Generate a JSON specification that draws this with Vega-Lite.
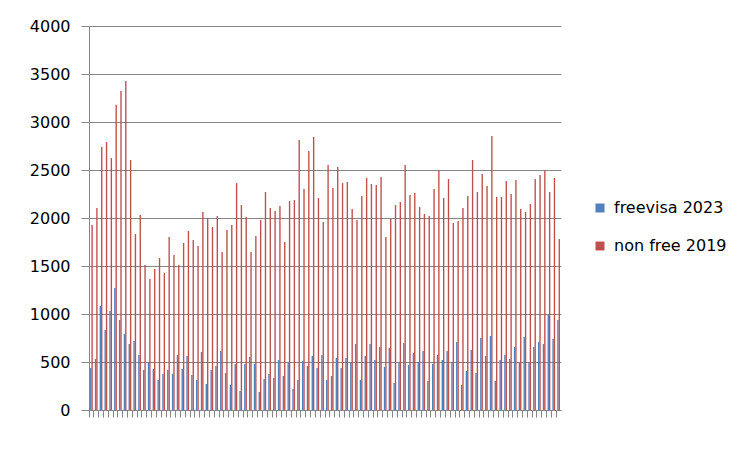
{
  "$schema": "https://vega.github.io/schema/vega-lite/v6.json",
  "width": 472,
  "height": 384,
  "autosize": "none",
  "padding": {"left": 89, "top": 26, "right": 193, "bottom": 44},
  "background": "white",
  "data": {"values": [
    {"c":1,"freevisa 2023":437,"non free 2019":1927},
    {"c":2,"freevisa 2023":531,"non free 2019":2104},
    {"c":3,"freevisa 2023":1083,"non free 2019":2740},
    {"c":4,"freevisa 2023":833,"non free 2019":2792},
    {"c":5,"freevisa 2023":1031,"non free 2019":2625},
    {"c":6,"freevisa 2023":1271,"non free 2019":3177},
    {"c":7,"freevisa 2023":937,"non free 2019":3323},
    {"c":8,"freevisa 2023":792,"non free 2019":3427},
    {"c":9,"freevisa 2023":687,"non free 2019":2604},
    {"c":10,"freevisa 2023":719,"non free 2019":1833},
    {"c":11,"freevisa 2023":573,"non free 2019":2031},
    {"c":12,"freevisa 2023":417,"non free 2019":1510},
    {"c":13,"freevisa 2023":500,"non free 2019":1365},
    {"c":14,"freevisa 2023":427,"non free 2019":1469},
    {"c":15,"freevisa 2023":312,"non free 2019":1583},
    {"c":16,"freevisa 2023":375,"non free 2019":1427},
    {"c":17,"freevisa 2023":417,"non free 2019":1802},
    {"c":18,"freevisa 2023":375,"non free 2019":1615},
    {"c":19,"freevisa 2023":573,"non free 2019":1510},
    {"c":20,"freevisa 2023":427,"non free 2019":1740},
    {"c":21,"freevisa 2023":562,"non free 2019":1865},
    {"c":22,"freevisa 2023":365,"non free 2019":1771},
    {"c":23,"freevisa 2023":312,"non free 2019":1708},
    {"c":24,"freevisa 2023":604,"non free 2019":2062},
    {"c":25,"freevisa 2023":271,"non free 2019":2000},
    {"c":26,"freevisa 2023":417,"non free 2019":1906},
    {"c":27,"freevisa 2023":458,"non free 2019":2021},
    {"c":28,"freevisa 2023":615,"non free 2019":1646},
    {"c":29,"freevisa 2023":385,"non free 2019":1875},
    {"c":30,"freevisa 2023":260,"non free 2019":1927},
    {"c":31,"freevisa 2023":479,"non free 2019":2364},
    {"c":32,"freevisa 2023":198,"non free 2019":2135},
    {"c":33,"freevisa 2023":479,"non free 2019":2010},
    {"c":34,"freevisa 2023":552,"non free 2019":1646},
    {"c":35,"freevisa 2023":479,"non free 2019":1812},
    {"c":36,"freevisa 2023":187,"non free 2019":1979},
    {"c":37,"freevisa 2023":323,"non free 2019":2271},
    {"c":38,"freevisa 2023":375,"non free 2019":2104},
    {"c":39,"freevisa 2023":333,"non free 2019":2073},
    {"c":40,"freevisa 2023":521,"non free 2019":2125},
    {"c":41,"freevisa 2023":354,"non free 2019":1750},
    {"c":42,"freevisa 2023":500,"non free 2019":2177},
    {"c":43,"freevisa 2023":219,"non free 2019":2187},
    {"c":44,"freevisa 2023":312,"non free 2019":2812},
    {"c":45,"freevisa 2023":510,"non free 2019":2302},
    {"c":46,"freevisa 2023":458,"non free 2019":2698},
    {"c":47,"freevisa 2023":562,"non free 2019":2844},
    {"c":48,"freevisa 2023":437,"non free 2019":2208},
    {"c":49,"freevisa 2023":573,"non free 2019":1958},
    {"c":50,"freevisa 2023":312,"non free 2019":2552},
    {"c":51,"freevisa 2023":354,"non free 2019":2312},
    {"c":52,"freevisa 2023":542,"non free 2019":2531},
    {"c":53,"freevisa 2023":437,"non free 2019":2364},
    {"c":54,"freevisa 2023":542,"non free 2019":2375},
    {"c":55,"freevisa 2023":497,"non free 2019":2094},
    {"c":56,"freevisa 2023":687,"non free 2019":1979},
    {"c":57,"freevisa 2023":312,"non free 2019":2229},
    {"c":58,"freevisa 2023":562,"non free 2019":2417},
    {"c":59,"freevisa 2023":687,"non free 2019":2354},
    {"c":60,"freevisa 2023":521,"non free 2019":2344},
    {"c":61,"freevisa 2023":656,"non free 2019":2427},
    {"c":62,"freevisa 2023":448,"non free 2019":1802},
    {"c":63,"freevisa 2023":646,"non free 2019":1990},
    {"c":64,"freevisa 2023":281,"non free 2019":2135},
    {"c":65,"freevisa 2023":500,"non free 2019":2167},
    {"c":66,"freevisa 2023":698,"non free 2019":2552},
    {"c":67,"freevisa 2023":469,"non free 2019":2239},
    {"c":68,"freevisa 2023":594,"non free 2019":2260},
    {"c":69,"freevisa 2023":500,"non free 2019":2114},
    {"c":70,"freevisa 2023":615,"non free 2019":2042},
    {"c":71,"freevisa 2023":302,"non free 2019":2021},
    {"c":72,"freevisa 2023":479,"non free 2019":2302},
    {"c":73,"freevisa 2023":573,"non free 2019":2496},
    {"c":74,"freevisa 2023":521,"non free 2019":2208},
    {"c":75,"freevisa 2023":615,"non free 2019":2406},
    {"c":76,"freevisa 2023":497,"non free 2019":1948},
    {"c":77,"freevisa 2023":708,"non free 2019":1969},
    {"c":78,"freevisa 2023":260,"non free 2019":2104},
    {"c":79,"freevisa 2023":406,"non free 2019":2229},
    {"c":80,"freevisa 2023":625,"non free 2019":2604},
    {"c":81,"freevisa 2023":385,"non free 2019":2271},
    {"c":82,"freevisa 2023":750,"non free 2019":2458},
    {"c":83,"freevisa 2023":562,"non free 2019":2333},
    {"c":84,"freevisa 2023":771,"non free 2019":2854},
    {"c":85,"freevisa 2023":302,"non free 2019":2219},
    {"c":86,"freevisa 2023":521,"non free 2019":2219},
    {"c":87,"freevisa 2023":573,"non free 2019":2385},
    {"c":88,"freevisa 2023":531,"non free 2019":2250},
    {"c":89,"freevisa 2023":656,"non free 2019":2396},
    {"c":90,"freevisa 2023":497,"non free 2019":2094},
    {"c":91,"freevisa 2023":760,"non free 2019":2062},
    {"c":92,"freevisa 2023":497,"non free 2019":2146},
    {"c":93,"freevisa 2023":656,"non free 2019":2406},
    {"c":94,"freevisa 2023":708,"non free 2019":2448},
    {"c":95,"freevisa 2023":687,"non free 2019":2496},
    {"c":96,"freevisa 2023":996,"non free 2019":2271},
    {"c":97,"freevisa 2023":740,"non free 2019":2417},
    {"c":98,"freevisa 2023":937,"non free 2019":1781}
  ]},
  "transform": [{"fold": ["freevisa 2023", "non free 2019"], "as": ["series", "value"]}],
  "mark": {"type": "bar"},
  "encoding": {
    "x": {
      "field": "c", "type": "ordinal", "sort": null,
      "scale": {"paddingInner": 0, "paddingOuter": 0},
      "axis": {"labels": false, "title": null, "bandPosition": 0, "tickSize": 7, "domainColor": "#868686", "tickColor": "#868686", "grid": false}
    },
    "xOffset": {"field": "series", "scale": {"paddingInner": 0, "paddingOuter": 0.75}},
    "y": {
      "field": "value", "type": "quantitative",
      "scale": {"domain": [0, 4000], "nice": false},
      "axis": {"values": [0, 500, 1000, 1500, 2000, 2500, 3000, 3500, 4000], "format": "d", "title": null, "tickSize": 8, "labelPadding": 11, "labelFont": "DejaVu Sans", "labelFontSize": 16, "labelColor": "black", "domainColor": "#868686", "tickColor": "#868686", "gridColor": "#868686", "gridOpacity": 1}
    },
    "color": {
      "field": "series", "type": "nominal",
      "scale": {"domain": ["freevisa 2023", "non free 2019"], "range": ["#4F81BD", "#C0504D"]},
      "legend": {"orient": "none", "legendX": 503, "legendY": 174, "title": null, "symbolType": "square", "symbolSize": 81, "symbolStrokeWidth": 0, "labelFont": "DejaVu Sans", "labelFontSize": 16, "labelColor": "black", "rowPadding": 22, "labelOffset": 6}
    }
  },
  "config": {"view": {"stroke": null}}
}
